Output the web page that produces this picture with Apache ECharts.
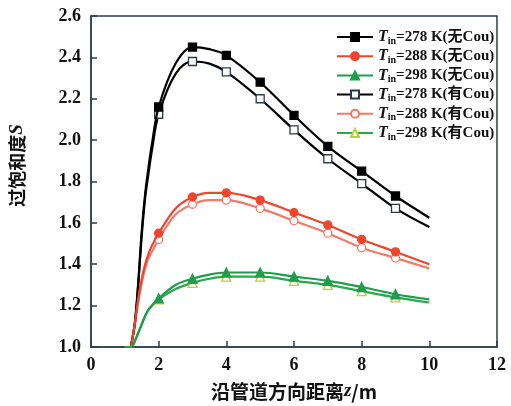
<!DOCTYPE html>
<html><head><meta charset="utf-8">
<script src="https://cdn.jsdelivr.net/npm/echarts@6/dist/echarts.min.js"></script>
<style>html,body{margin:0;padding:0;background:#fff}#c{width:511px;height:406px}</style>
</head><body><div id="c"></div>
<script>
const curveX = [1, 1.15, 1.2, 1.3, 1.4, 1.5, 1.6, 1.7, 1.8, 2, 2.5, 3, 3.5, 4, 5, 6, 7, 8, 9, 10];
const markerX = [2, 3, 4, 5, 6, 7, 8, 9];
const s278No  = [1.0,1.0,1.02,1.12,1.32,1.56,1.74,1.87,1.98,2.16,2.37,2.45,2.44,2.41,2.28,2.12,1.97,1.85,1.73,1.625];
const s288No  = [1.0,1.0,1.02,1.12,1.24,1.33,1.40,1.45,1.49,1.55,1.67,1.725,1.745,1.745,1.71,1.65,1.59,1.52,1.46,1.40];
const s298No  = [1.0,1.0,1.0,1.03,1.07,1.11,1.15,1.18,1.20,1.235,1.30,1.33,1.35,1.36,1.36,1.34,1.32,1.29,1.255,1.23];
const s278Yes = [1.0,1.0,1.02,1.12,1.31,1.54,1.72,1.84,1.95,2.125,2.32,2.38,2.37,2.33,2.20,2.05,1.91,1.79,1.67,1.58];
const s288Yes = [1.0,1.0,1.02,1.11,1.22,1.31,1.38,1.43,1.46,1.52,1.64,1.69,1.71,1.71,1.67,1.61,1.55,1.48,1.43,1.38];
const s298Yes = [1.0,1.0,1.0,1.03,1.07,1.11,1.15,1.18,1.20,1.23,1.28,1.31,1.33,1.34,1.34,1.32,1.30,1.27,1.24,1.215];
const names = ['T_in=278 K(无Cou)','T_in=288 K(无Cou)','T_in=298 K(无Cou)','T_in=278 K(有Cou)','T_in=288 K(有Cou)','T_in=298 K(有Cou)'];
const xTicks = [0,2,4,6,8,10,12];
const yTicks = [1.0,1.2,1.4,1.6,1.8,2.0,2.2,2.4,2.6];

const styles = [
  {y:s278No, line:'#000', sym:'rect', fill:'#000', border:'#000', size:8},
  {y:s288No, line:'#f0452d', sym:'circle', fill:'#f0452d', border:'#f0452d', size:8},
  {y:s298No, line:'#1f9e4a', sym:'triangle', fill:'#1f9e4a', border:'#1f9e4a', size:9},
  {y:s278Yes, line:'#000', sym:'rect', fill:'#fff', border:'#2a3a4a', size:8},
  {y:s288Yes, line:'#f27a66', sym:'circle', fill:'#fff', border:'#f27a66', size:8},
  {y:s298Yes, line:'#2aa84e', sym:'triangle', fill:'#fff', border:'#b8d040', size:9}
];
const serif = '"Liberation Serif","DejaVu Serif",serif';
const series = styles.map((s,k)=>({
  name: names[k], type:'line', smooth:0.35, clip:true,
  symbol:s.sym, symbolSize:s.size,
  lineStyle:{color:s.line, width:2.2},
  itemStyle:{color:s.fill, borderColor:s.border, borderWidth:1.3},
  z: k<3 ? 3 : 2,
  data: curveX.map((x,i)=>({value:[x,s.y[i]], symbol: markerX.includes(x) ? s.sym : 'none'}))
}));
const chart = echarts.init(document.getElementById('c'), null, {renderer:'canvas'});
chart.setOption({
  animation:false,
  backgroundColor:'#fff',
  grid:{left:89, right:14, top:16, bottom:59, show:true, borderColor:'#2b3e50', borderWidth:1.5, backgroundColor:'transparent'},
  legend:{
    orient:'vertical', left:331, top:24, itemWidth:36, itemHeight:10, itemGap:2.2,
    data: names,
    formatter: n => { const p = n.split('=')[1]; return '{t|T}{s|in}{n|=' + p + '}'; },
    textStyle:{ rich:{
      t:{fontFamily:serif, fontStyle:'italic', fontWeight:'bold', fontSize:16, color:'#111', lineHeight:18},
      s:{fontFamily:serif, fontWeight:'bold', fontSize:10, color:'#111', verticalAlign:'bottom', padding:[7,0,0,0], lineHeight:11},
      n:{fontFamily:serif+',"Noto Sans CJK SC"', fontWeight:'bold', fontSize:15, color:'#111', lineHeight:18}
    }}
  },
  xAxis:{
    type:'value', min:0, max:12, interval:2,
    axisLine:{show:true, lineStyle:{color:'#2b3e50', width:1.5}},
    axisTick:{show:true, inside:true, length:6, lineStyle:{color:'#2b3e50', width:1.5}},
    splitLine:{show:false},
    axisLabel:{fontFamily:serif, fontWeight:'bold', fontSize:18, color:'#111', margin:9,
      formatter: v => xTicks.includes(v) ? String(v) : ''},
    name:'{a|沿管道方向距离}{b|z}{a|/m}', nameLocation:'middle', nameGap:35,
    nameTextStyle:{rich:{
      a:{fontFamily:'"Noto Sans CJK SC"', fontWeight:'bold', fontSize:19, color:'#111'},
      b:{fontFamily:serif, fontStyle:'italic', fontWeight:'bold', fontSize:19, color:'#111'}
    }}
  },
  yAxis:{
    type:'value', min:1.0, max:2.6, interval:0.2,
    axisLine:{show:true, lineStyle:{color:'#2b3e50', width:1.5}},
    axisTick:{show:true, inside:true, length:6, lineStyle:{color:'#2b3e50', width:1.5}},
    splitLine:{show:false},
    axisLabel:{fontFamily:serif, fontWeight:'bold', fontSize:18, color:'#111', margin:10,
      formatter: v => { const t = yTicks.find(q=>Math.abs(q-v)<1e-6); return t===undefined ? '' : t.toFixed(1); }},
    name:'{a|过饱和度}{b|S}', nameLocation:'middle', nameGap:64, nameRotate:90,
    nameTextStyle:{padding:[0,0,0,32], rich:{
      a:{fontFamily:'"Noto Sans CJK SC"', fontWeight:'bold', fontSize:18, color:'#111'},
      b:{fontFamily:serif, fontStyle:'italic', fontWeight:'bold', fontSize:19, color:'#111'}
    }}
  },
  series: series
});
</script></body></html>
